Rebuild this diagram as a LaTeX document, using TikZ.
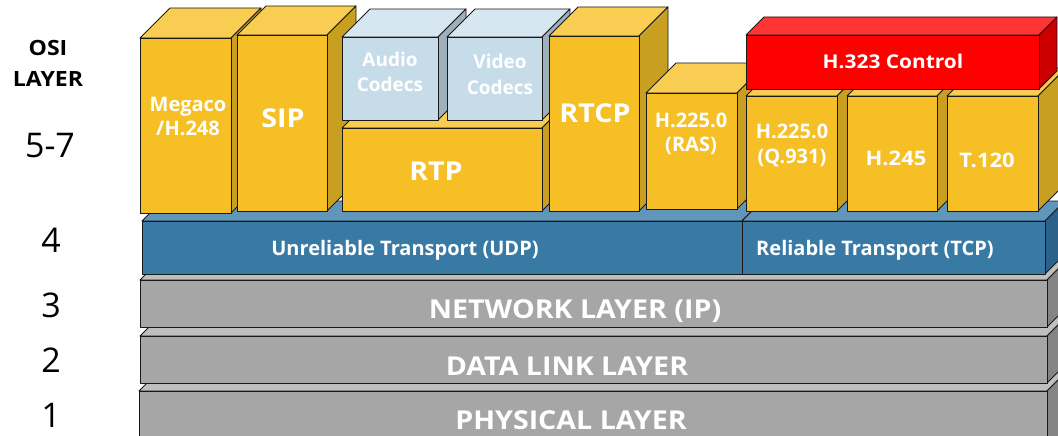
\documentclass[tikz,border=0pt]{standalone}
\usepackage{fontspec}
\setmainfont{Open Sans}
\newfontfamily\widesans{Open Sans}[FakeStretch=1.1]
\usepackage{tikz}
\usetikzlibrary{positioning}

% face colours: front, top, side
\definecolor{ylwfront}{RGB}{245,191,37}
\definecolor{ylwtop}{RGB}{248,205,82}
\definecolor{ylwside}{RGB}{201,159,33}
\definecolor{cdcfront}{RGB}{198,221,233}
\definecolor{cdctop}{RGB}{214,231,241}
\definecolor{cdcside}{RGB}{158,176,187}
\definecolor{redfront}{RGB}{255,0,0}
\definecolor{redtop}{RGB}{255,52,52}
\definecolor{redside}{RGB}{204,0,0}
\definecolor{trnfront}{RGB}{57,122,165}
\definecolor{trntop}{RGB}{96,150,186}
\definecolor{trnside}{RGB}{44,98,138}
\definecolor{grayfront}{RGB}{166,166,166}
\definecolor{graytop}{RGB}{191,191,191}
\definecolor{grayside}{RGB}{132,132,132}
\definecolor{edge}{RGB}{25,25,25}

% \blok{name}{x}{y}{width}{height}{depth}{colour}
\newcommand{\blok}[7]{%
  \filldraw[facet, fill=#7top] (#2,#3) -- ++(#6,-#6) -- ++(#4,0) -- ++(-#6,#6) -- cycle;
  \filldraw[facet, fill=#7side] (#2+#4,#3) -- ++(#6,-#6) -- ++(0,#5) -- ++(-#6,#6) -- cycle;
  \node[face, fill=#7front, minimum width=#4pt, minimum height=#5pt] (#1) at (#2,#3) {};
}

\begin{document}
\begin{tikzpicture}[x=1pt, y=-1pt, line join=round,
    facet/.style={draw=edge, line width=0.9pt},
    face/.style={facet, anchor=north west, inner sep=0pt, outer sep=0pt},
    lbl/.style={text=white, font=\bfseries\fontsize{20}{24}\selectfont, align=center, anchor=base, inner sep=0pt},
    wide/.style={lbl, font=\widesans\bfseries\fontsize{20}{24}\selectfont},
    big/.style={lbl, font=\widesans\bfseries\fontsize{26}{28}\selectfont},
    trn/.style={lbl, font=\bfseries\fontsize{20}{22}\selectfont},
    num/.style={font=\fontsize{34}{36}\selectfont, anchor=base, inner sep=0pt}]
  \useasboundingbox (0,0) rectangle (1058,436);
  \clip (0,0) rectangle (1058,436);

  % lower layers
  \blok{phy}{139}{391}{908}{60}{20}{gray}
  \blok{dll}{140}{336}{907}{47}{20}{gray}
  \blok{net}{140}{280}{907}{47}{20}{gray}
  \blok{udp}{142}{221}{600}{53}{20}{trn}
  \blok{tcp}{742}{221}{303}{53}{20}{trn}

  % upper layers, left to right
  \blok{megaco}{140}{38}{91}{175}{30}{ylw}
  \blok{sip}{237}{35}{90}{176}{29}{ylw}
  \blok{rtp}{342}{128}{200}{83}{28}{ylw}
  \blok{audio}{342}{37}{96}{83}{28}{cdc}
  \blok{video}{447}{37}{95}{83}{28}{cdc}
  \blok{rtcp}{549}{36}{90}{175}{29}{ylw}
  \blok{ras}{646}{93}{91}{116}{30}{ylw}
  \blok{qsig}{746}{96}{91}{115}{28}{ylw}
  \blok{hctl}{847}{96}{90}{115}{28}{ylw}
  \blok{data}{947}{96}{91}{115}{28}{ylw}
  \blok{ctrl}{746}{35}{293}{54}{18}{red}

  % labels (a two-line label sits on its last baseline)
  \node[lbl] (megacotxt) at (188,135) {Megaco\\/H.248};
  \node[big] (siptxt) at (283,128) {SIP};
  \node[lbl, font=\bfseries\fontsize{19}{25}\selectfont] (audiotxt) at (390,92) {Audio\\Codecs};
  \node[lbl, font=\bfseries\fontsize{19}{26}\selectfont] (videotxt) at (500,95) {Video\\Codecs};
  \node[big] (rtptxt) at (436,180) {RTP};
  \node[big] (rtcptxt) at (595,122) {RTCP};
  \node[lbl] (rastxt) at (691,151) {H.225.0\\(RAS)};
  \node[lbl, font=\bfseries\fontsize{20}{25}\selectfont] (qsigtxt) at (792,163) {H.225.0\\(Q.931)};
  \node[wide] (hctltxt) at (896,165) {H.245};
  \node[wide] (datatxt) at (987,167) {T.120};
  \node[wide, font=\widesans\bfseries\fontsize{19}{22}\selectfont] (ctrltxt) at (893,69) {H.323 Control};
  \node[trn] (udptxt) at (405,255) {Unreliable Transport (UDP)};
  \node[trn] (tcptxt) at (875,255) {Reliable Transport (TCP)};
  \node[big] (nettxt) at (575,318) {NETWORK LAYER (IP)};
  \node[big] (dlltxt) at (567,375) {DATA LINK LAYER};
  \node[big] (phytxt) at (571,429) {PHYSICAL LAYER};

  % OSI numbering
  \node[anchor=base, inner sep=0pt, align=center, font=\widesans\bfseries\fontsize{21}{31}\selectfont] (osi) at (48,86) {OSI\\LAYER};
  \node[num] (n57) at (50,157) {5-7};
  \node[num] (n4) at (51,252) {4};
  \node[num] (n3) at (51,317) {3};
  \node[num] (n2) at (51,372) {2};
  \node[num] (n1) at (51,427) {1};
\end{tikzpicture}
\end{document}
